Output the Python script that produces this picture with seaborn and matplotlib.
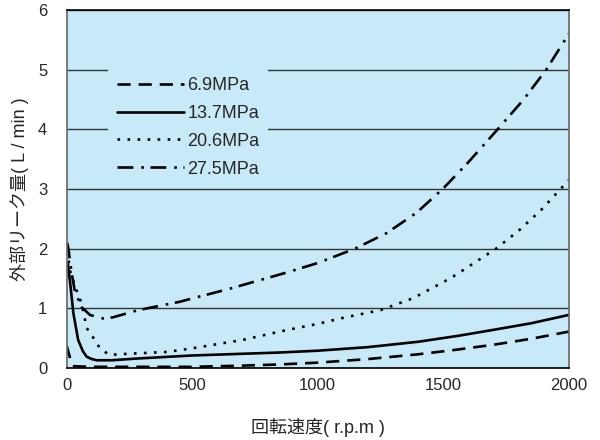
import matplotlib
matplotlib.use("Agg")
from matplotlib import pyplot as plt
import numpy as np
import pandas
import seaborn as sns

# values
labels = ["6.9MPa", "13.7MPa", "20.6MPa", "27.5MPa"]

x_69 = [0, 15, 30, 100, 300, 500, 700, 850, 1000, 1200, 1400, 1540, 1700, 1850, 2000]
y_69 = [0.38, 0.15, 0.03, 0.02, 0.02, 0.02, 0.04, 0.06, 0.09, 0.15, 0.23, 0.30, 0.39, 0.49, 0.61]

x_137 = [5, 13, 27, 46, 65, 80, 100, 120, 180, 285, 500, 850, 1000, 1200, 1400, 1560, 1700, 1850, 2000]
y_137 = [1.75, 1.47, 0.92, 0.47, 0.28, 0.19, 0.15, 0.13, 0.13, 0.16, 0.21, 0.26, 0.29, 0.35, 0.44, 0.54, 0.64, 0.75, 0.89]

x_206 = [8, 13, 35, 60, 80, 106, 133, 170, 250, 400, 500, 700, 870, 1000, 1100, 1250, 1380, 1500, 1550, 1710, 1800, 1890, 2000]
y_206 = [1.8, 1.64, 1.35, 1.08, 0.67, 0.51, 0.33, 0.22, 0.24, 0.27, 0.33, 0.47, 0.63, 0.74, 0.84, 0.97, 1.17, 1.44, 1.56, 2.0, 2.3, 2.65, 3.15]

x_275 = [2, 7, 20, 33, 60, 93, 146, 185, 285, 450, 650, 876, 1000, 1148, 1274, 1393, 1500, 1600, 1725, 1820, 1910, 2000]
y_275 = [2.1, 2.0, 1.6, 1.28, 1.02, 0.89, 0.83, 0.85, 0.97, 1.11, 1.33, 1.60, 1.76, 2.0, 2.26, 2.6, 3.01, 3.45, 4.04, 4.5, 5.0, 5.6]

xs = [x_69, x_137, x_206, x_275]
ys = [y_69, y_137, y_206, y_275]

frames = []
for lab, xv, yv in zip(labels, xs, ys):
    frames.append(pandas.DataFrame({"rpm": xv, "leak": yv, "pressure": lab}))
df = pandas.concat(frames, ignore_index=True)

bg = "#c8eaf8"
sns.set_style("white")
plt.rcParams['font.family'] = ['Liberation Sans', 'Noto Sans CJK JP', 'DejaVu Sans']

fig = plt.figure(figsize=(6, 4.4), dpi=100)
ax = fig.add_axes([0.111, 0.1636, 0.837, 0.8136])
ax.set_facecolor(bg)

dash_map = {"6.9MPa": (5, 3), "13.7MPa": "", "20.6MPa": (1, 2.8), "27.5MPa": (6, 3, 1, 2.5)}
sns.lineplot(data=df, x="rpm", y="leak", hue="pressure", style="pressure",
             palette=["black"] * 4, dashes=dash_map, linewidth=1.9,
             sort=True, estimator=None, ax=ax, legend=True)

ax.set_xlim(0, 2000)
ax.set_ylim(0, 6)
ax.set_xticks([0, 500, 1000, 1500, 2000])
ax.set_yticks([0, 1, 2, 3, 4, 5, 6])
ax.yaxis.grid(True, color="#333333", linewidth=1)
ax.set_axisbelow(True)
ax.tick_params(axis="x", direction="in", length=4, color="#777777", labelsize=12, pad=7)
ax.tick_params(axis="y", length=0, labelsize=12, pad=14)

for side in ["top", "bottom"]:
    ax.spines[side].set_color("black")
for side in ["left", "right"]:
    ax.spines[side].set_color("#666666")
for s in ax.spines.values():
    s.set_linewidth(1.2)

ax.set_xlabel("回転速度( r.p.m )", fontsize=13, labelpad=18)
ax.set_ylabel("外部リーク量( L / min )", fontsize=13, labelpad=6)

handles, labs = ax.get_legend_handles_labels()
leg = ax.legend(handles, labs, loc="upper left", bbox_to_anchor=(0.082, 0.838),
                fontsize=13, frameon=True, facecolor=bg, edgecolor=bg, framealpha=1,
                fancybox=False, handlelength=3.7, handletextpad=0.2,
                labelspacing=0.6, borderaxespad=0, borderpad=0.5)
leg.get_frame().set_linewidth(0)

fig.savefig("out.png", dpi=100)
